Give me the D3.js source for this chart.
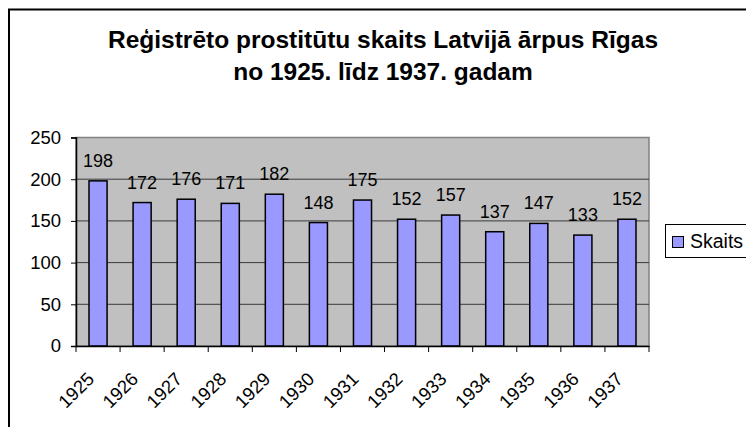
<!DOCTYPE html>
<html>
<head>
<meta charset="utf-8">
<script src="https://cdn.jsdelivr.net/npm/d3@7"></script>
<style>
  body { margin: 0; background: #fff; }
  svg { display: block; font-family: "Liberation Sans", Arial, sans-serif; }
</style>
</head>
<body>
<div id="chart"></div>
<script>
// Data
const years = ["1925", "1926", "1927", "1928", "1929", "1930", "1931", "1932", "1933", "1934", "1935", "1936", "1937"];
const counts = [198, 172, 176, 171, 182, 148, 175, 152, 157, 137, 147, 133, 152];
const yTicks = [0, 50, 100, 150, 200, 250];
const seriesName = "Skaits";
const titleLines = ["Reģistrēto prostitūtu skaits Latvijā ārpus Rīgas", "no 1925. līdz 1937. gadam"];

const width = 746;
const height = 427;
const plot = {left: 76, right: 649, top: 137.5, bottom: 346};

const svg = d3.select("#chart")
    .append("svg")
    .attr("width", width)
    .attr("height", height);

// Chart area border
svg.append("rect")
    .attr("x", 9)
    .attr("y", 9.5)
    .attr("width", 760)
    .attr("height", 440)
    .attr("fill", "#fff")
    .attr("stroke", "#000")
    .attr("stroke-width", 2);

// Title
svg.append("text")
    .attr("x", 383)
    .attr("y", 48)
    .attr("text-anchor", "middle")
    .style("font-size", "24.5px")
    .style("font-weight", "bold")
    .selectAll("tspan")
    .data(titleLines)
    .enter().append("tspan")
    .attr("x", 383)
    .attr("dy", (d, i) => i === 0 ? 0 : 32)
    .text(d => d);

// Scales
const xScale = d3.scaleBand()
    .domain(years)
    .range([plot.left, plot.right]);

const yScale = d3.scaleLinear()
    .domain([0, 250])
    .range([plot.bottom, plot.top]);

// Plot background
svg.append("rect")
    .attr("x", plot.left)
    .attr("y", plot.top)
    .attr("width", plot.right - plot.left)
    .attr("height", plot.bottom - plot.top)
    .attr("fill", "#c0c0c0")
    .attr("stroke", "#808080")
    .attr("stroke-width", 1.5);

// Gridlines
svg.append("g")
    .selectAll("line")
    .data(yTicks.slice(1, -1))
    .enter().append("line")
    .attr("x1", plot.left)
    .attr("x2", plot.right)
    .attr("y1", d => yScale(d))
    .attr("y2", d => yScale(d))
    .attr("stroke", "#3a3a3a")
    .attr("stroke-width", 1);

// Bars
const barW = xScale.bandwidth() * 0.41;
svg.append("g")
    .selectAll("rect")
    .data(counts)
    .enter().append("rect")
    .attr("x", (d, i) => xScale(years[i]) + (xScale.bandwidth() - barW) / 2)
    .attr("y", d => yScale(d))
    .attr("width", barW)
    .attr("height", d => plot.bottom - yScale(d))
    .attr("fill", "#9999ff")
    .attr("stroke", "#000")
    .attr("stroke-width", 1.5);

// Data labels
svg.append("g")
    .selectAll("text")
    .data(counts)
    .enter().append("text")
    .attr("x", (d, i) => xScale(years[i]) + xScale.bandwidth() / 2)
    .attr("y", d => yScale(d) - 14)
    .attr("text-anchor", "middle")
    .style("font-size", "18px")
    .text(d => d);

// Y axis
const yAxis = svg.append("g")
    .attr("transform", "translate(" + plot.left + ",0)")
    .call(d3.axisLeft(yScale).tickValues(yTicks).tickSize(5).tickPadding(10));
yAxis.select(".domain").attr("stroke", "#000").attr("stroke-width", 1.5);
yAxis.selectAll(".tick line").attr("stroke", "#000");
yAxis.selectAll("text")
    .style("font-size", "18.5px")
    .attr("fill", "#000")
    .attr("font-family", null);

// X axis
const xAxis = svg.append("g")
    .attr("transform", "translate(0," + plot.bottom + ")")
    .call(d3.axisBottom(xScale).tickSize(0).tickFormat(""));
xAxis.select(".domain").attr("stroke", "#000").attr("stroke-width", 1.5);

// Ticks between categories
svg.append("g")
    .selectAll("line")
    .data(years.concat(["end"]))
    .enter().append("line")
    .attr("x1", (d, i) => plot.left + i * xScale.step())
    .attr("x2", (d, i) => plot.left + i * xScale.step())
    .attr("y1", plot.bottom)
    .attr("y2", plot.bottom + 6)
    .attr("stroke", "#000");

// X labels rotated
svg.append("g")
    .selectAll("text")
    .data(years)
    .enter().append("text")
    .attr("transform", d => "translate(" + (xScale(d) + xScale.bandwidth() / 2 - 12) + "," + (plot.bottom + 25) + ") rotate(-45)")
    .attr("text-anchor", "end")
    .attr("dy", "0.7em")
    .style("font-size", "18.5px")
    .text(d => d);

// Legend
const legend = svg.append("g")
    .attr("transform", "translate(665.5,224.5)");
legend.append("rect")
    .attr("width", 100)
    .attr("height", 33)
    .attr("fill", "#fff")
    .attr("stroke", "#000");
legend.append("rect")
    .attr("x", 7)
    .attr("y", 12)
    .attr("width", 11)
    .attr("height", 11)
    .attr("fill", "#9999ff")
    .attr("stroke", "#000");
legend.append("text")
    .attr("x", 24.5)
    .attr("y", 23.5)
    .style("font-size", "19.5px")
    .text(seriesName);
</script>
</body>
</html>
